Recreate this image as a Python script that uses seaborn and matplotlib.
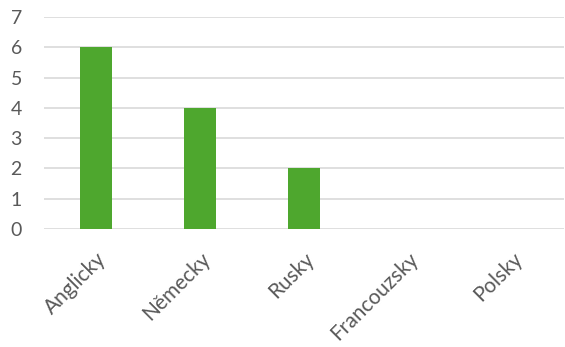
import matplotlib
matplotlib.use("Agg")
import matplotlib.pyplot as plt
import seaborn as sns
import pandas as pd

categories = ["Anglicky", "Německy", "Rusky", "Francouzsky", "Polsky"]
values = [6, 4, 2, 0, 0]
yticks = [0, 1, 2, 3, 4, 5, 6, 7]

sns.set_theme(style="white")
plt.rcParams['font.family'] = ['Lato', 'DejaVu Sans']

df = pd.DataFrame({"lang": categories, "n": values})

fig = plt.figure(figsize=(5.65, 3.47), dpi=100)
ax = fig.add_axes([0.078, 0.34, 0.92, 0.611])
sns.barplot(data=df, x="lang", y="n", color="#4EA72E", saturation=1, width=0.3,
            linewidth=0, edgecolor="none", ax=ax, zorder=3)
ax.set_ylim(0, 7)
ax.set_yticks(yticks)
ax.set_xlim(-0.5, len(categories) - 0.5)
ax.yaxis.grid(True, color="#D9D9D9", linewidth=1.2, zorder=0)
ax.set_axisbelow(True)
for s in ax.spines.values():
    s.set_visible(False)
ax.set_xlabel("")
ax.set_ylabel("")
ax.tick_params(axis="both", length=0, colors="#595959")
ax.tick_params(axis="y", pad=16, labelsize=14)
ax.tick_params(axis="x", pad=14, labelsize=15)
for lbl in ax.get_xticklabels():
    lbl.set_rotation(45)
    lbl.set_ha("right")
    lbl.set_rotation_mode("anchor")
fig.savefig("out.png", dpi=100)
